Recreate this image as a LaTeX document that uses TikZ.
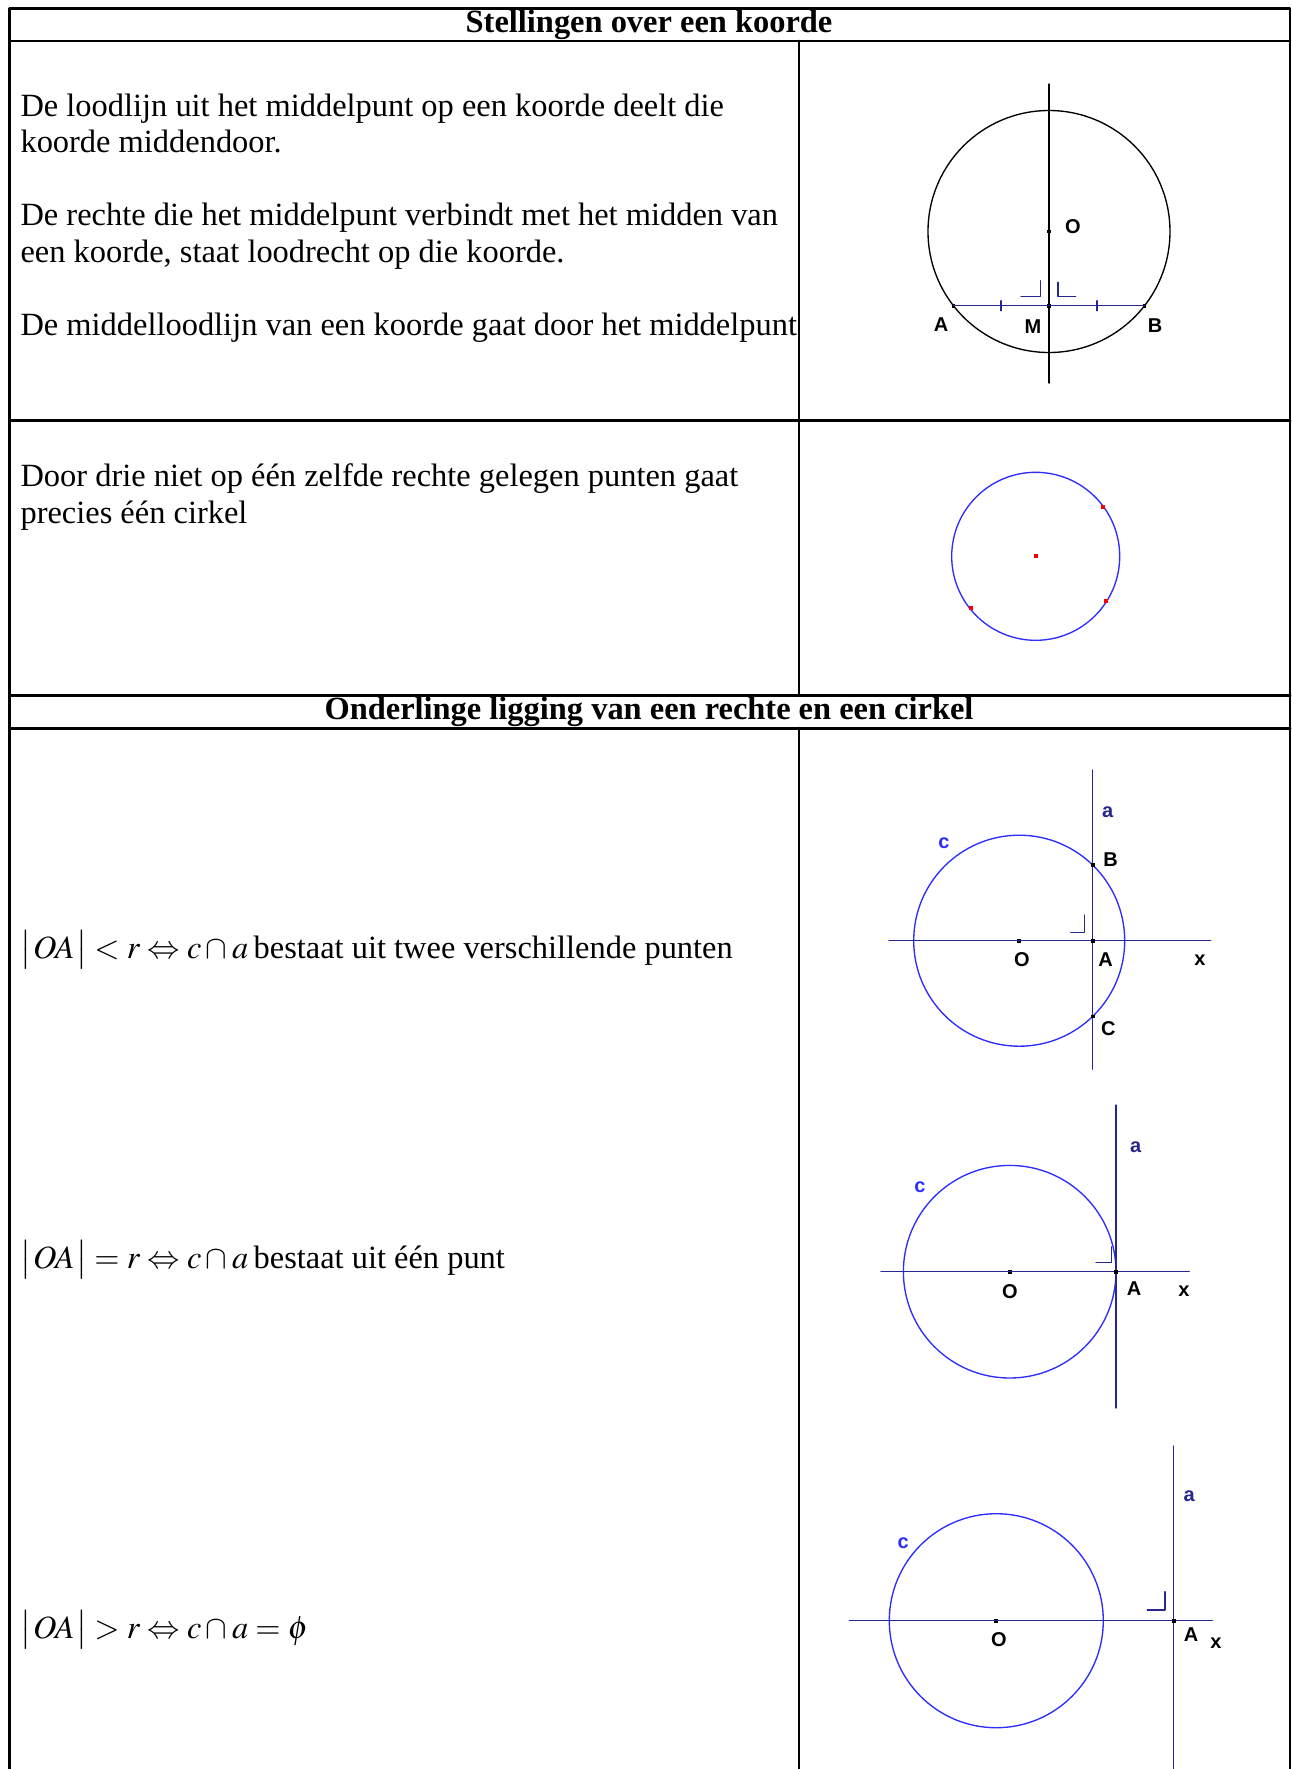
\documentclass[tikz,border=0pt]{standalone}
\usepackage{mathptmx}
\usepackage{fontspec}
\setmainfont{Liberation Serif}
\newfontfamily\lblfont{Liberation Sans}
\usetikzlibrary{positioning}
\definecolor{navy}{RGB}{38,38,140}
\definecolor{cblue}{RGB}{45,45,255}
\definecolor{ptred}{RGB}{250,0,0}
\tikzstyle{every path}=[line cap=round,line join=round]
\tikzset{
  txt/.style={anchor=base west,inner sep=0pt,font=\fontsize{12}{14.2}\selectfont},
  head/.style={anchor=base,inner sep=0pt,font=\bfseries\fontsize{12}{14.2}\selectfont},
  lbl/.style={inner sep=0pt,font=\lblfont\bfseries\fontsize{7.4}{8}\selectfont},
  pt/.style={rectangle,fill=black,inner sep=0pt,minimum size=1.4pt},
  redpt/.style={pt,fill=ptred,minimum size=1.6pt},
  grid/.style={line width=1.1pt},
  geo/.style={line width=0.5pt}
}

\begin{document}
\begin{tikzpicture}[x=0.37pt,y=-0.37pt]
\useasboundingbox (0,0) rectangle (1292,1769);
% Table
	\coordinate (TL) at (9.5,8.5); % TL = table left top
	\coordinate (TR) at (1290,8.5); % TR = table right top
	\coordinate (BL) at (9.5,1769); % BL = table left bottom
	\coordinate (BR) at (1290,1769); % BR = table right bottom
	\draw [grid] (BL) -- (TL) -- (TR) -- (BR);
	\foreach \ry in {41,420,695,728}{
		\draw [grid] (9.5,\ry) -- (1290,\ry);
	}
	\draw [grid] (799,41) -- (799,695); % divider upper half
	\draw [grid] (799,728) -- (799,1769); % divider lower half
	%Headers
	\node [head] (H1) at (649,32) {Stellingen over een koorde};
	\node [head] (H2) at (649,719.5) {Onderlinge ligging van een rechte en een cirkel};
	%Texts of the first row
	\node [txt] (T1a) at (20,116) {De loodlijn uit het middelpunt op een koorde deelt die};
	\node [txt] (T1b) at (20,152.5) {koorde middendoor.};
	\node [txt] (T2a) at (20,225.5) {De rechte die het middelpunt verbindt met het midden van};
	\node [txt] (T2b) at (20,262) {een koorde, staat loodrecht op die koorde.};
	\node [txt] (T3a) at (20,335) {De middelloodlijn van een koorde gaat door het middelpunt};
	\node [txt] (T4a) at (20,486) {Door drie niet op \'e\'en zelfde rechte gelegen punten gaat};
	\node [txt] (T4b) at (20,523.5) {precies \'e\'en cirkel};
	%Formulas
	\node [txt] (F1) at (20,958) {$\bigl|\mkern1mu OA\mkern1mu\bigr| < r \Leftrightarrow c\cap a$\,bestaat uit twee verschillende punten};
	\node [txt] (F2) at (20,1268) {$\bigl|\mkern1mu OA\mkern1mu\bigr| = r \Leftrightarrow c\cap a$\,bestaat uit \'e\'en punt};
	\node [txt] (F3) at (20,1638) {$\bigl|\mkern1mu OA\mkern1mu\bigr| > r \Leftrightarrow c\cap a = \phi$};
	% Chord figure
	\coordinate (K1) at (1049,231.5); % K1 = centre of the circle
	\draw [geo] (K1) circle (121);
	\coordinate (V1T) at (1049,84); % V1T = top of the perpendicular
	\coordinate (V1B) at (1049,383); % V1B = bottom of the perpendicular
	\draw [geo] (V1T) -- (V1B);
	\node [pt] (O1) at (K1) {};
	\node [pt] (A1) at (953.4,305.7) {};
	\node [pt] (B1) at (1144.6,305.7) {};
	\node [pt] (M1) at (1049,305.7) {};
	\draw [geo,navy] (A1.center) -- (M1.center) -- (B1.center);
	\draw [geo,navy] (1001,300.7) --++(0,10); % tick left half
	\draw [geo,navy] (1097,300.7) --++(0,10); % tick right half
	\draw [geo,navy] (1021,296.7) -- (1040.3,296.7) -- (1040.3,280.7);
	\draw [geo,navy] (1058,282.3) -- (1058,296.7) -- (1075.7,296.7);
	\node [lbl] (LO1) at (1073,227) {O};
	\node [lbl] (LA1) at (941,325) {A};
	\node [lbl] (LM1) at (1033,326.5) {M};
	\node [lbl] (LB1) at (1155,325.5) {B};
	% Three points figure
	\coordinate (K2) at (1035.7,556.3); % K2 = centre of the circle
	\draw [geo,cblue] (K2) circle (84);
	\node [redpt] (P0) at (K2) {};
	\node [redpt] (P1) at (1103.3,506.7) {};
	\node [redpt] (P2) at (1106.3,601.3) {};
	\node [redpt] (P3) at (970.7,608.3) {};
	% Secant figure
	\node [pt] (O3) at (1019.2,940.7) {};
	\draw [geo,cblue] (O3.center) circle (105.5);
	\coordinate (X3L) at (889,940.7); \coordinate (X3R) at (1210.7,940.7);
	\coordinate (a3T) at (1092.7,770); \coordinate (a3B) at (1092.7,1069.3);
	\draw [geo,navy] (X3L) -- (X3R);
	\draw [geo,navy] (a3T) -- (a3B);
	\node [pt] (A3) at (1092.7,940.7) {};
	\node [pt] (B3) at (1092.7,865) {};
	\node [pt] (C3) at (1092.7,1016.4) {};
	\draw [geo,navy] (1070.7,932.3) -- (1084.3,932.3) -- (1084.3,915);
	\node [lbl,navy] (La3) at (1107.7,812.3) {a};
	\node [lbl,cblue] (Lc3) at (944,842.7) {c};
	\node [lbl] (LB3) at (1110.7,859.3) {B};
	\node [lbl] (LA3) at (1105.7,959.3) {A};
	\node [lbl] (LO3) at (1022,960) {O};
	\node [lbl] (Lx3) at (1200,960) {x};
	\node [lbl] (LC3) at (1108.3,1028.3) {C};
	% Tangent figure
	\node [pt] (O4) at (1009.7,1271.7) {};
	\draw [geo,cblue] (O4.center) circle (106.3);
	\coordinate (X4L) at (881,1271.7); \coordinate (X4R) at (1189.3,1271.7);
	\coordinate (a4T) at (1116,1105); \coordinate (a4B) at (1116,1408);
	\draw [geo,navy] (X4L) -- (X4R);
	\draw [geo,navy] (a4T) -- (a4B);
	\node [pt] (A4) at (1116,1271.7) {};
	\draw [geo,navy] (1096,1262.7) -- (1111.7,1262.7) -- (1111.7,1246.7);
	\node [lbl,navy] (La4) at (1135.7,1147.3) {a};
	\node [lbl,cblue] (Lc4) at (920,1187.3) {c};
	\node [lbl] (LO4) at (1010,1291.7) {O};
	\node [lbl] (LA4) at (1134,1289) {A};
	\node [lbl] (Lx4) at (1184,1291) {x};
	% Outside figure
	\node [pt] (O5) at (996.3,1620.7) {};
	\draw [geo,cblue] (O5.center) circle (107);
	\coordinate (X5L) at (849.3,1620.7); \coordinate (X5R) at (1212.3,1620.7);
	\coordinate (a5T) at (1173.7,1446); \coordinate (a5B) at (1173.7,1769);
	\draw [geo,navy] (X5L) -- (X5R);
	\draw [geo,navy] (a5T) -- (a5B);
	\node [pt] (A5) at (1173.7,1620.7) {};
	\draw [geo,navy] (1147.3,1610) -- (1165,1610) -- (1165,1591.7);
	\node [lbl,navy] (La5) at (1189.3,1496) {a};
	\node [lbl,cblue] (Lc5) at (903.3,1542.7) {c};
	\node [lbl] (LO5) at (999,1640) {O};
	\node [lbl] (LA5) at (1191,1635) {A};
	\node [lbl] (Lx5) at (1216,1643.3) {x};
\end{tikzpicture}
\end{document}
